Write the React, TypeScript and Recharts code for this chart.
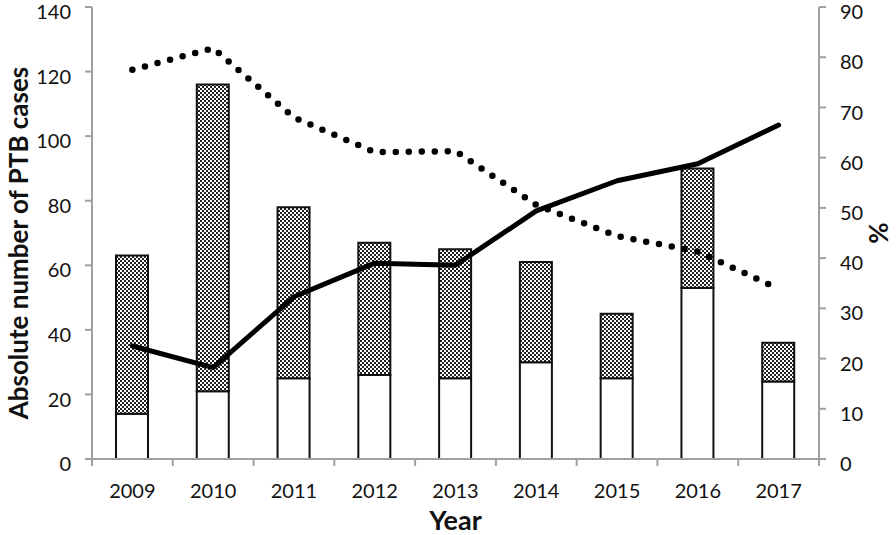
import React from "react";
import { Bar, ComposedChart, Line, XAxis, YAxis } from "recharts";

const years = ["2009", "2010", "2011", "2012", "2013", "2014", "2015", "2016", "2017"];
const whiteCases = [14, 21, 25, 26, 25, 30, 25, 53, 24];
const hatchedCases = [49, 95, 53, 41, 40, 31, 20, 37, 12];
const solidPct = [22.5, 18.2, 32.3, 39, 38.6, 49.4, 55.4, 58.8, 66.5];
const dottedPct = [77.5, 81.8, 68, 61.1, 61.3, 50.6, 44.4, 41.3, 33.9];
const leftTicks = [0, 20, 40, 60, 80, 100, 120, 140];
const rightTicks = [0, 10, 20, 30, 40, 50, 60, 70, 80, 90];

const data = years.map((year, i) => ({
  year,
  white: whiteCases[i],
  hatched: hatchedCases[i],
  solid: solidPct[i],
  dotted: dottedPct[i],
}));

const W = 896;
const H = 535;
const LEFT_W = 92;
const RIGHT_W = 77;
const BAND = (W - LEFT_W - RIGHT_W) / years.length;
const AXIS = "#a0a0a0";
const FONT = "Lato, 'Open Sans', sans-serif";

function YearTick(props: any) {
  const { x, y, payload, index } = props;
  const half = BAND / 2;
  return (
    <g>
      <line x1={x - half} x2={x - half} y1={y} y2={y + 7} stroke={AXIS} strokeWidth={2} />
      {index === years.length - 1 && (
        <line x1={x + half} x2={x + half} y1={y} y2={y + 7} stroke={AXIS} strokeWidth={2} />
      )}
      <text x={x} y={y + 39} textAnchor="middle" fontSize={20} fill="#111" fontFamily={FONT}>
        {payload.value}
      </text>
    </g>
  );
}

export default function App() {
  return (
    <div style={{ position: "absolute", left: 0, top: 0, background: "#fff" }}>
      <ComposedChart width={W} height={H} data={data} margin={{ top: 7, right: 0, bottom: 0, left: 0 }} barGap={0}>
        <defs>
          <pattern id="checker" width="4" height="4" patternUnits="userSpaceOnUse">
            <rect width="4" height="4" fill="#fff" />
            <rect x="0" y="0" width="2" height="2" fill="#222" />
            <rect x="2" y="2" width="2" height="2" fill="#222" />
          </pattern>
        </defs>
        <XAxis
          dataKey="year"
          height={76}
          tickSize={0}
          tickMargin={0}
          tickLine={false}
          axisLine={{ stroke: AXIS, strokeWidth: 2 }}
          tick={<YearTick />}
          interval={0}
          label={{ value: "Year", position: "insideBottom", offset: 5, fontSize: 27, fontWeight: 700, fill: "#111", fontFamily: FONT }}
        />
        <YAxis
          yAxisId="left"
          width={LEFT_W}
          domain={[0, 140]}
          ticks={leftTicks}
          interval={0}
          tickSize={7}
          tickMargin={14}
          tick={{ fontSize: 20, fill: "#111", fontFamily: FONT, dy: 5 }}
          tickLine={{ stroke: AXIS, strokeWidth: 2 }}
          axisLine={{ stroke: AXIS, strokeWidth: 2 }}
          label={{
            value: "Absolute number of PTB cases",
            angle: -90,
            position: "insideLeft",
            offset: 19,
            dy: 10,
            fontSize: 26,
            fontWeight: 700,
            fill: "#111",
            fontFamily: FONT,
            style: { textAnchor: "middle" },
          }}
        />
        <YAxis
          yAxisId="right"
          orientation="right"
          width={RIGHT_W}
          domain={[0, 90]}
          ticks={rightTicks}
          interval={0}
          tickSize={7}
          tickMargin={14}
          tick={{ fontSize: 20, fill: "#111", fontFamily: FONT, dy: 5 }}
          tickLine={{ stroke: AXIS, strokeWidth: 2 }}
          axisLine={{ stroke: AXIS, strokeWidth: 2 }}
          label={{
            value: "%",
            angle: -90,
            position: "insideRight",
            offset: 17,
            fontSize: 26,
            fontWeight: 700,
            fill: "#111",
            fontFamily: FONT,
            style: { textAnchor: "middle" },
          }}
        />
        <Bar yAxisId="left" dataKey="white" stackId="a" barSize={32} fill="#fff" stroke="#111" strokeWidth={2} isAnimationActive={false} />
        <Bar yAxisId="left" dataKey="hatched" stackId="a" barSize={32} fill="url(#checker)" stroke="#111" strokeWidth={2} isAnimationActive={false} />
        <Line
          yAxisId="right"
          type="linear"
          dataKey="dotted"
          stroke="#000"
          strokeWidth={6.5}
          strokeDasharray="0 13"
          strokeLinecap="round"
          dot={false}
          isAnimationActive={false}
        />
        <Line
          yAxisId="right"
          type="linear"
          dataKey="solid"
          stroke="#000"
          strokeWidth={5}
          strokeLinecap="round"
          strokeLinejoin="round"
          dot={false}
          isAnimationActive={false}
        />
      </ComposedChart>
    </div>
  );
}
